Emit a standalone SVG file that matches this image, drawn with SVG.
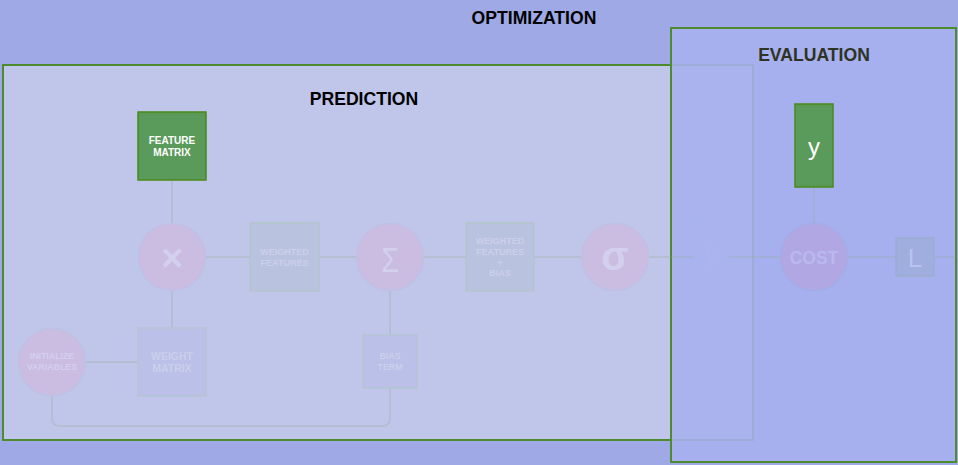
<svg xmlns="http://www.w3.org/2000/svg" width="958" height="465" viewBox="0 0 958 465">
<style>
text{font-family:"Liberation Sans",Arial,sans-serif;text-anchor:middle}
.title{font-size:17.6px;font-weight:bold}
.conn{fill:none;stroke:#8FB08F;stroke-opacity:.3;stroke-width:1.5}
.op{fill:#CBBCE2;stroke:#BEC0E6;stroke-width:1.5}
.opt{fill:#D3D0EE;font-weight:bold}
.sig{fill:#D3D0EE;font-weight:normal}
.data{fill:#B9C2DF;stroke:#B3C4CC;stroke-width:1.5}
.param{fill:#BAC0E7;stroke:#B5C3D3;stroke-width:1.5}
.ft{fill:#CBD0EA;font-weight:bold}
.input{fill:#5A9A5A;stroke:#4A8A1A;stroke-width:1.5}
.it{fill:#FFFFFF}
</style>
<rect x="0" y="0" width="958" height="465" fill="#9EA9E5"/>
<text class="title" x="534" y="24" fill="#000">OPTIMIZATION</text>
<g id="prediction">
<rect x="3" y="65" width="750" height="375" fill="#C0C5EA" stroke="#4E8A2E" stroke-width="2"/>
<text class="title" x="364" y="105" fill="#000">PREDICTION</text>
</g>
<g id="yhat">
<rect x="693" y="217" width="36" height="84" fill="#BAC2E4" stroke="#B6C2D8" stroke-width="1.5"/>
<text x="711" y="262" font-size="24" fill="#CACFEC">ŷ</text>
</g>
<g id="evaluation">
<rect x="671" y="28" width="285" height="434" fill="#A7B1EF" fill-opacity="0.88" stroke="#4E8A2E" stroke-width="2"/>
<text class="title" x="814" y="61" fill="#2E3322">EVALUATION</text>
</g>
<g id="connectors">
<path class="conn" d="M172 180V223M172 290V328M86 362H138M206 257H250M319 257H357M423 257H466M534 257H582M648 257H693M729 257H780M848 257H896M934 257H956M390 290V335M390 388V418Q390 426 382 426H60Q52 426 52 418V396M814 187V223"/>
</g>
<g id="feature-matrix">
<rect class="input" x="138" y="112" width="68" height="68"/>
<text class="it" x="172" y="144" font-size="10" font-weight="bold">FEATURE</text>
<text class="it" x="172" y="155.5" font-size="10" font-weight="bold">MATRIX</text>
</g>
<g id="multiply">
<circle class="op" cx="172" cy="257" r="33.5"/>
<text class="opt" x="172" y="271" font-size="38">×</text>
</g>
<g id="weighted-features">
<rect class="data" x="250" y="223" width="69" height="68"/>
<text class="ft" x="284.5" y="255" font-size="9">WEIGHTED</text>
<text class="ft" x="284.5" y="265.5" font-size="9">FEATURES</text>
</g>
<g id="sum">
<circle class="op" cx="390" cy="257" r="33.5"/>
<text class="sig" transform="translate(390 272.3) scale(0.82 1)" x="0" y="0" font-size="35">Σ</text>
</g>
<g id="weighted-features-bias">
<rect class="data" x="466" y="223" width="68" height="68"/>
<text class="ft" x="500" y="244.3" font-size="9">WEIGHTED</text>
<text class="ft" x="500" y="255.3" font-size="9">FEATURES</text>
<text class="ft" x="500" y="265.5" font-size="9">+</text>
<text class="ft" x="500" y="276" font-size="9">BIAS</text>
</g>
<g id="sigmoid">
<circle class="op" cx="615" cy="257" r="33.5"/>
<text class="opt" x="615" y="270" font-size="40">σ</text>
</g>
<g id="initialize-variables">
<circle class="op" cx="52" cy="362" r="33.5"/>
<text class="opt" x="52" y="359.3" font-size="8.8">INITIALIZE</text>
<text class="opt" x="52" y="370" font-size="8.8">VARIABLES</text>
</g>
<g id="weight-matrix">
<rect class="param" x="138" y="328" width="68" height="68"/>
<text class="ft" x="172" y="360.3" font-size="10.5">WEIGHT</text>
<text class="ft" x="172" y="372.3" font-size="10.5">MATRIX</text>
</g>
<g id="bias-term">
<rect class="param" x="363" y="335" width="54" height="53"/>
<text class="ft" x="390" y="359.3" font-size="8.8">BIAS</text>
<text class="ft" x="390" y="370" font-size="8.8">TERM</text>
</g>
<g id="y">
<rect class="input" x="795" y="104" width="38" height="83"/>
<text class="it" x="814" y="155" font-size="24">y</text>
</g>
<g id="cost">
<circle cx="814" cy="257" r="33.5" fill="#B1A8E3" stroke="#A3ACE6" stroke-width="1.5"/>
<text x="814" y="264.3" font-size="17.5" font-weight="bold" fill="#BAB8EE">COST</text>
</g>
<g id="loss">
<rect x="896" y="238" width="38" height="38" fill="#9FAEDE" stroke="#9AADD2" stroke-width="1.5"/>
<text x="915" y="266.5" font-size="26" fill="#BAC3F2">L</text>
</g>
</svg>
